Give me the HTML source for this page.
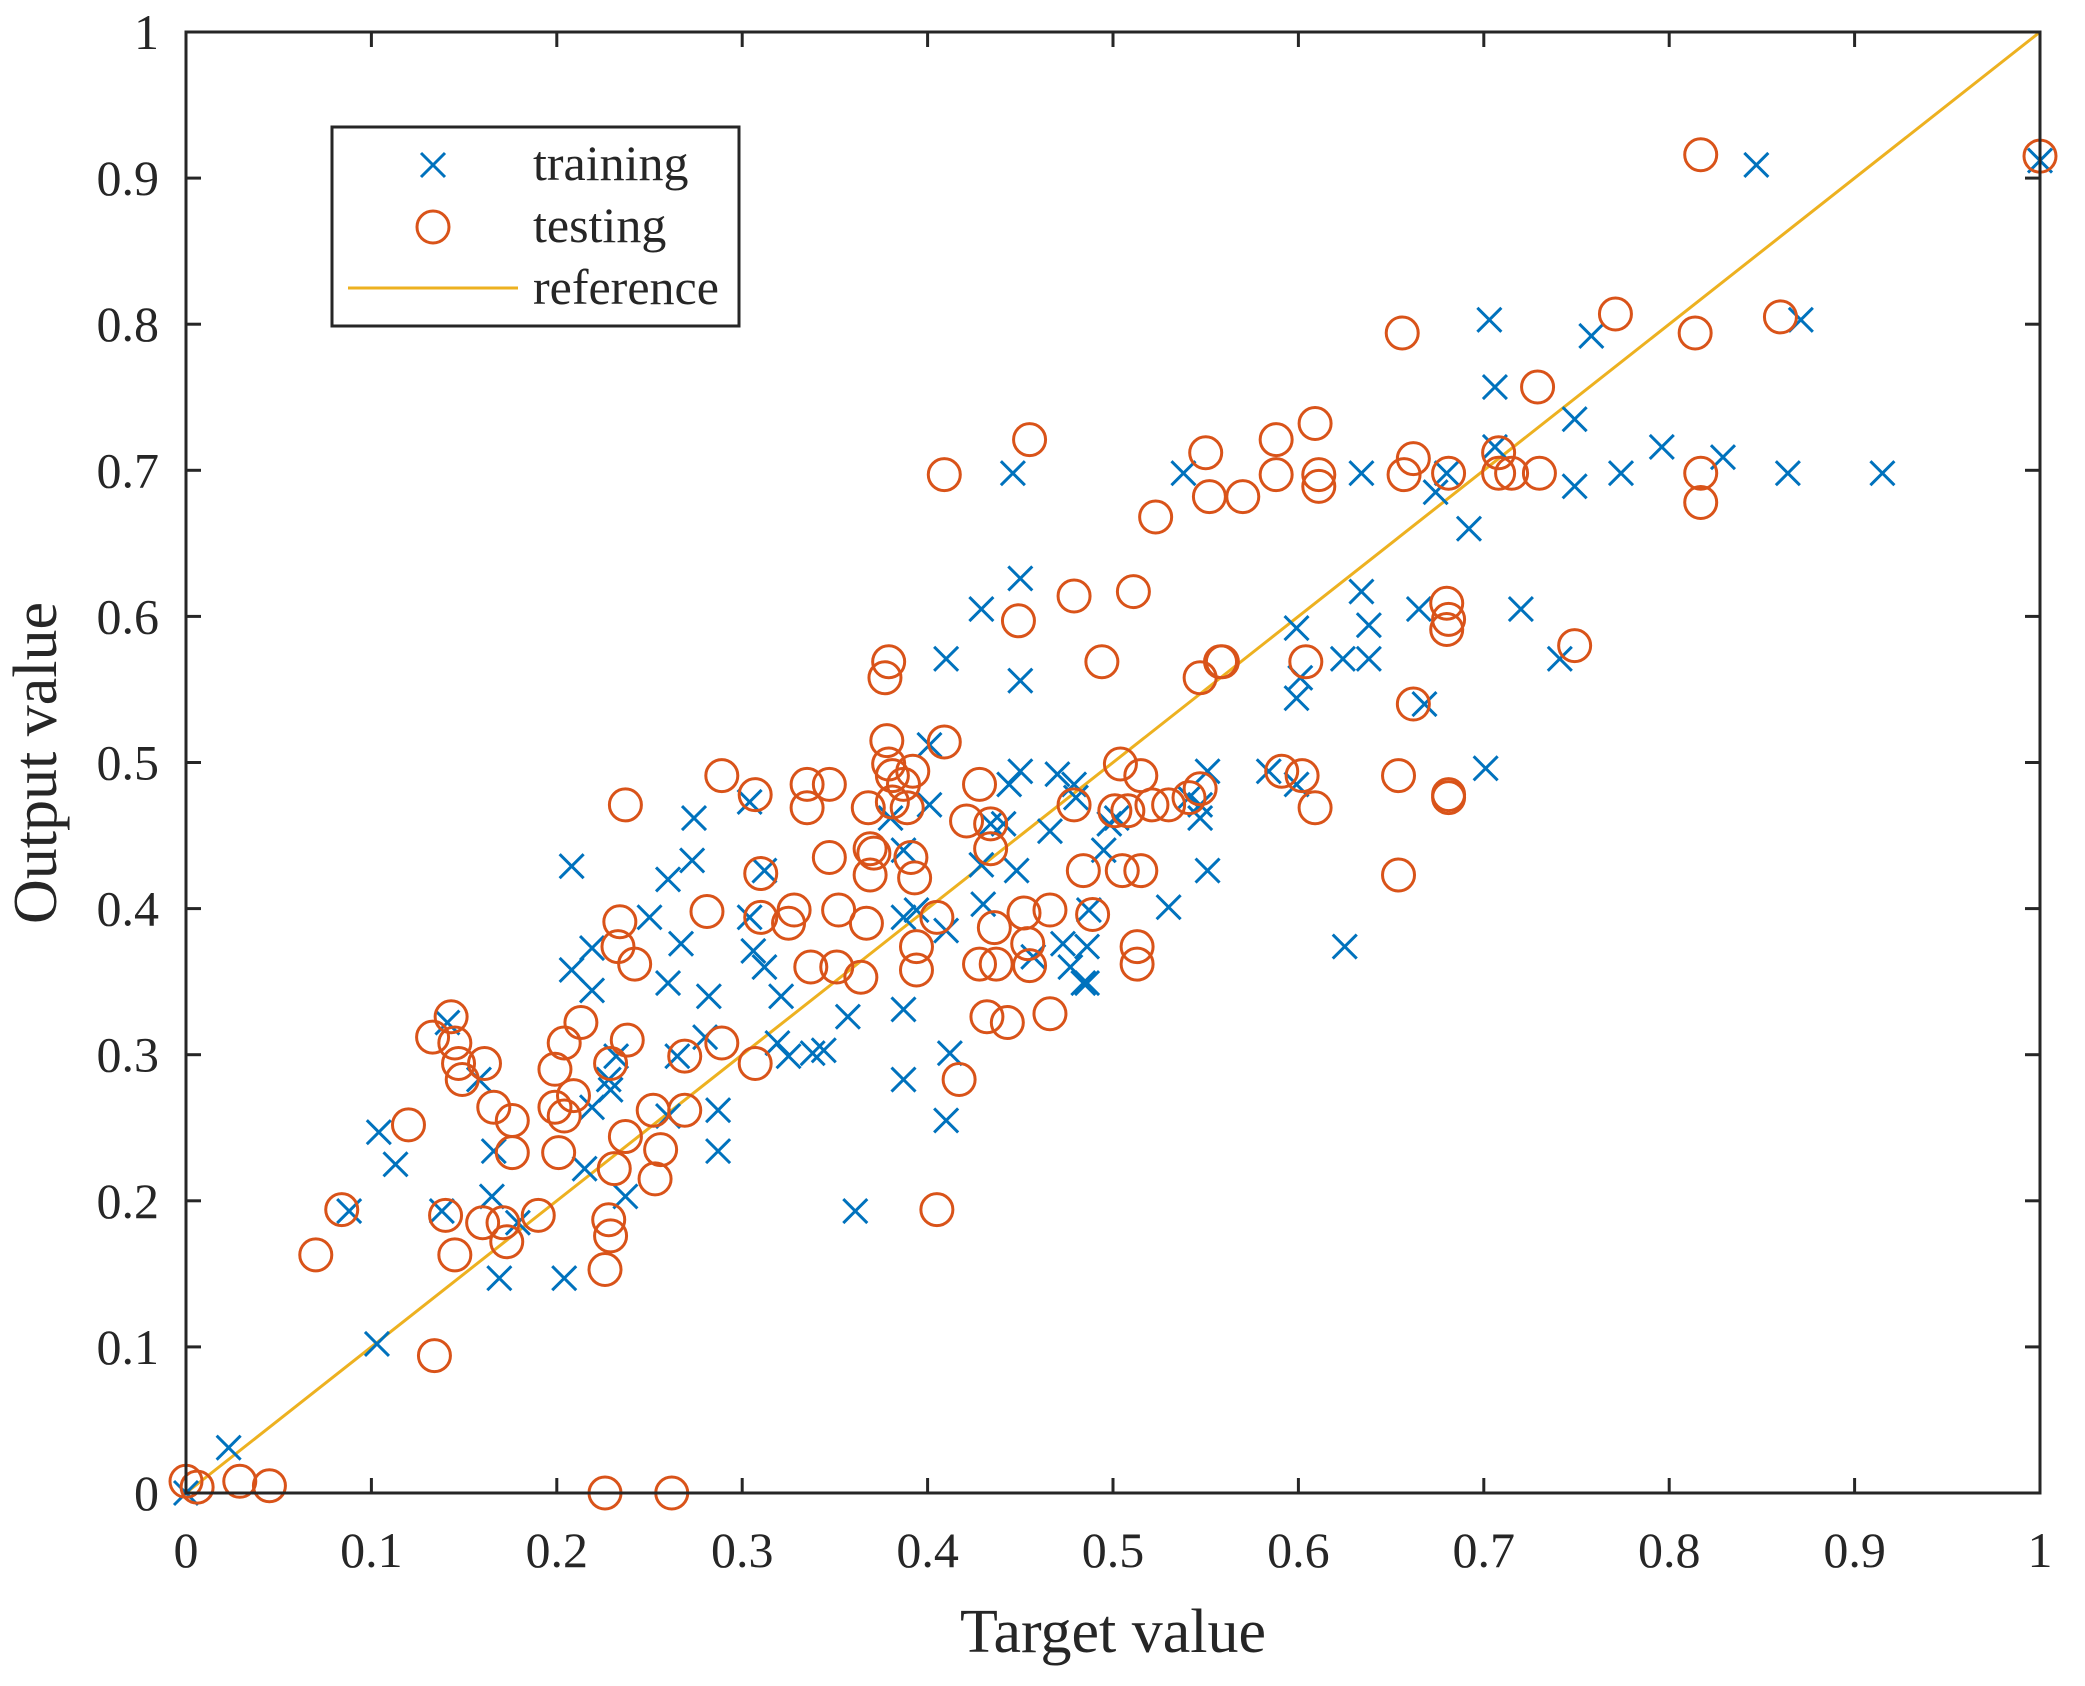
<!DOCTYPE html>
<html>
<head>
<meta charset="utf-8">
<style>
html,body{margin:0;padding:0;background:#fff;}
svg{display:block;}
text{font-family:"Liberation Serif",serif;fill:#262626;}
</style>
</head>
<body>
<svg id="chart" width="2085" height="1686" viewBox="0 0 2085 1686">
  <g id="grid-layer"></g>
  <g id="ref-layer"></g>
  <g id="train-layer"></g>
  <g id="test-layer"></g>
  <rect x="186" y="32" width="1854" height="1461" fill="none" stroke="#262626" stroke-width="3"/>
  <g id="ticks-layer"></g>
  <text x="1113" y="1652" font-size="62" text-anchor="middle">Target value</text>
  <text transform="translate(56,763) rotate(-90)" font-size="62" text-anchor="middle">Output value</text>
  <g>
    <rect x="332" y="127" width="407" height="199" fill="#fff" stroke="#262626" stroke-width="3"/>
    <g>
      <path d="M421 153 L445 177 M445 153 L421 177" stroke="#0072BD" stroke-width="3" fill="none"/>
      <text x="533" y="180" font-size="50">training</text>
    </g>
    <g>
      <circle cx="433" cy="227" r="16" stroke="#D95319" stroke-width="3" fill="none"/>
      <text x="533" y="242" font-size="50">testing</text>
    </g>
    <g>
      <line x1="348" y1="288" x2="518" y2="288" stroke="#EDB120" stroke-width="3"/>
      <text x="533" y="304" font-size="50">reference</text>
    </g>
  </g>
</svg>
<script>
const xTicks = [0,0.1,0.2,0.3,0.4,0.5,0.6,0.7,0.8,0.9,1];
const yTicks = [0,0.1,0.2,0.3,0.4,0.5,0.6,0.7,0.8,0.9,1];
const xTickLabels = ["0","0.1","0.2","0.3","0.4","0.5","0.6","0.7","0.8","0.9","1"];
const yTickLabels = ["0","0.1","0.2","0.3","0.4","0.5","0.6","0.7","0.8","0.9","1"];
const refLine = [[0,0],[1,1]];
const trainX = [0.023,0,0.104,0.113,0.088,0.103,0.138,0.141,0.158,0.165,0.169,0.166,0.179,0.204,0.208,0.208,0.219,0.219,0.215,0.219,0.228,0.229,0.232,0.237,0.25,0.26,0.26,0.267,0.265,0.273,0.274,0.28,0.282,0.287,0.287,0.26,0.304,0.304,0.306,0.312,0.312,0.321,0.319,0.325,0.338,0.344,0.357,0.361,0.38,0.387,0.387,0.387,0.387,0.394,0.401,0.401,0.41,0.412,0.41,0.41,0.429,0.429,0.43,0.434,0.441,0.444,0.446,0.45,0.45,0.448,0.45,0.457,0.466,0.47,0.473,0.477,0.479,0.48,0.484,0.486,0.487,0.486,0.495,0.498,0.502,0.53,0.538,0.541,0.547,0.547,0.551,0.551,0.584,0.599,0.599,0.601,0.599,0.625,0.624,0.634,0.634,0.638,0.638,0.665,0.668,0.674,0.68,0.692,0.701,0.703,0.706,0.706,0.72,0.741,0.749,0.749,0.758,0.774,0.796,0.829,0.847,0.864,0.871,0.915,1.0];
const trainY = [0.031,0,0.247,0.225,0.193,0.102,0.193,0.322,0.283,0.203,0.147,0.234,0.185,0.147,0.429,0.358,0.344,0.373,0.222,0.264,0.283,0.276,0.299,0.203,0.394,0.42,0.349,0.376,0.299,0.433,0.462,0.312,0.34,0.262,0.234,0.258,0.473,0.394,0.371,0.36,0.426,0.34,0.308,0.299,0.301,0.303,0.326,0.193,0.462,0.44,0.394,0.331,0.283,0.399,0.471,0.512,0.571,0.301,0.255,0.385,0.605,0.43,0.403,0.458,0.458,0.485,0.698,0.626,0.556,0.426,0.494,0.367,0.453,0.492,0.376,0.36,0.485,0.476,0.349,0.374,0.399,0.349,0.44,0.458,0.462,0.401,0.698,0.476,0.471,0.462,0.494,0.426,0.494,0.592,0.544,0.558,0.485,0.374,0.571,0.617,0.698,0.594,0.571,0.605,0.54,0.685,0.698,0.66,0.496,0.803,0.757,0.716,0.605,0.571,0.735,0.689,0.792,0.698,0.716,0.709,0.909,0.698,0.803,0.698,0.912];
const testX = [0,0.006,0.029,0.045,0.07,0.084,0.12,0.134,0.133,0.143,0.145,0.147,0.149,0.14,0.145,0.16,0.161,0.166,0.171,0.173,0.176,0.176,0.19,0.199,0.199,0.201,0.204,0.204,0.213,0.209,0.226,0.226,0.228,0.229,0.229,0.231,0.233,0.234,0.237,0.237,0.238,0.242,0.252,0.253,0.256,0.262,0.269,0.269,0.281,0.289,0.289,0.307,0.307,0.31,0.31,0.328,0.325,0.335,0.335,0.337,0.347,0.347,0.352,0.351,0.364,0.367,0.368,0.369,0.369,0.371,0.377,0.379,0.378,0.379,0.381,0.381,0.387,0.389,0.391,0.392,0.393,0.394,0.394,0.405,0.405,0.409,0.409,0.417,0.421,0.428,0.428,0.432,0.434,0.434,0.436,0.437,0.443,0.449,0.452,0.454,0.455,0.455,0.466,0.466,0.479,0.479,0.484,0.489,0.494,0.501,0.504,0.505,0.508,0.511,0.513,0.513,0.515,0.515,0.521,0.523,0.53,0.541,0.547,0.547,0.55,0.552,0.558,0.559,0.57,0.588,0.588,0.591,0.602,0.604,0.609,0.609,0.611,0.611,0.654,0.654,0.656,0.657,0.662,0.662,0.68,0.68,0.681,0.681,0.681,0.681,0.708,0.708,0.715,0.729,0.73,0.749,0.771,0.814,0.817,0.817,0.817,0.86,1.0];
const testY = [0.008,0.004,0.008,0.005,0.163,0.194,0.252,0.094,0.312,0.326,0.308,0.294,0.283,0.19,0.163,0.185,0.294,0.264,0.185,0.172,0.233,0.255,0.19,0.264,0.29,0.233,0.308,0.258,0.322,0.272,0,0.153,0.187,0.176,0.294,0.222,0.374,0.391,0.471,0.244,0.31,0.362,0.262,0.215,0.235,0,0.262,0.299,0.398,0.491,0.308,0.478,0.294,0.394,0.424,0.399,0.39,0.485,0.469,0.36,0.485,0.435,0.399,0.36,0.353,0.39,0.469,0.423,0.441,0.438,0.558,0.569,0.515,0.499,0.473,0.491,0.485,0.469,0.435,0.494,0.421,0.358,0.374,0.394,0.194,0.514,0.697,0.283,0.46,0.485,0.362,0.326,0.458,0.441,0.387,0.362,0.322,0.597,0.397,0.376,0.721,0.361,0.399,0.328,0.471,0.614,0.426,0.396,0.569,0.467,0.499,0.426,0.467,0.617,0.374,0.362,0.491,0.426,0.471,0.668,0.471,0.476,0.482,0.558,0.712,0.682,0.569,0.569,0.682,0.721,0.697,0.494,0.491,0.569,0.469,0.732,0.697,0.689,0.423,0.491,0.794,0.697,0.708,0.54,0.609,0.591,0.598,0.478,0.476,0.698,0.698,0.712,0.698,0.757,0.698,0.58,0.807,0.794,0.678,0.698,0.916,0.805,0.915];

const NS = "http://www.w3.org/2000/svg";
const L = 186, R = 2040, T = 32, B = 1493;
function sx(v){ return L + v * (R - L); }
function sy(v){ return B - v * (B - T); }
function mk(tag, attrs, parent){
  const e = document.createElementNS(NS, tag);
  for (const k in attrs) e.setAttribute(k, attrs[k]);
  parent.appendChild(e);
  return e;
}
const ticks = document.getElementById('ticks-layer');
xTicks.forEach((v, i) => {
  const x = sx(v);
  const t1 = mk('line', {x1:x, y1:B, x2:x, y2:B-15, stroke:'#262626', 'stroke-width':3}, ticks);
  
  
  const t2 = mk('line', {x1:x, y1:T, x2:x, y2:T+15, stroke:'#262626', 'stroke-width':3}, ticks);
  
  
  const lb = mk('text', {x:x, y:1567, 'font-size':50, 'text-anchor':'middle'}, ticks);
  lb.textContent = xTickLabels[i];
  
  
});
yTicks.forEach((v, i) => {
  const y = sy(v);
  const t1 = mk('line', {x1:L, y1:y, x2:L+15, y2:y, stroke:'#262626', 'stroke-width':3}, ticks);
  
  
  const t2 = mk('line', {x1:R, y1:y, x2:R-15, y2:y, stroke:'#262626', 'stroke-width':3}, ticks);
  
  
  const lb = mk('text', {x:159, y:y+17, 'font-size':50, 'text-anchor':'end'}, ticks);
  lb.textContent = yTickLabels[i];
  
  
});
const ref = mk('line', {x1:sx(refLine[0][0]), y1:sy(refLine[0][1]), x2:sx(refLine[1][0]), y2:sy(refLine[1][1]), stroke:'#EDB120', 'stroke-width':3}, document.getElementById('ref-layer'));


const tl = document.getElementById('train-layer');
trainX.forEach((v, i) => {
  const x = sx(v), y = sy(trainY[i]), h = 12;
  const p = mk('path', {d:`M${x-h} ${y-h} L${x+h} ${y+h} M${x+h} ${y-h} L${x-h} ${y+h}`, stroke:'#0072BD', 'stroke-width':3, fill:'none'}, tl);
  
  
});
const te = document.getElementById('test-layer');
testX.forEach((v, i) => {
  const c = mk('circle', {cx:sx(v), cy:sy(testY[i]), r:16, stroke:'#D95319', 'stroke-width':3, fill:'none'}, te);
  
  
});
</script>
</body>
</html>
